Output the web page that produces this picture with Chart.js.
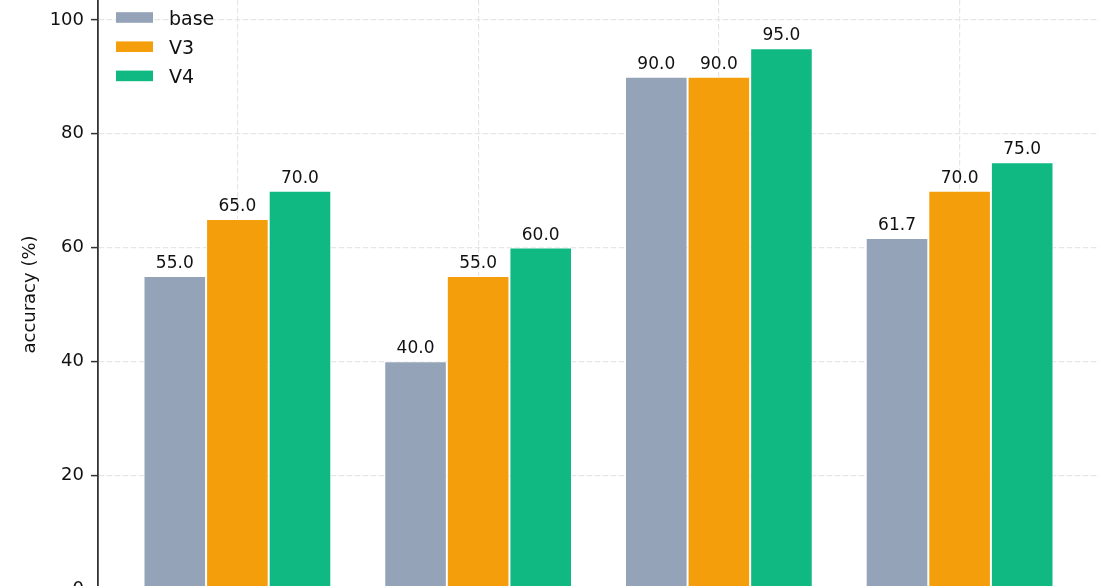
<!DOCTYPE html>
<html>
<head>
<meta charset="utf-8">
<script src="https://cdn.jsdelivr.net/npm/chart.js@4"></script>
<style>
  html, body { margin: 0; padding: 0; background: #fff; overflow: hidden; }
  #wrap { width: 1120px; height: 600px; }
</style>
</head>
<body>
<div id="wrap"><canvas id="accChart"></canvas></div>
<script>
// four groups, x labels are below the visible frame
const categories = ['1', '2', '3', '4'];
const seriesNames = ['base', 'V3', 'V4'];
const baseValues = [55.0, 40.0, 90.0, 61.7];
const v3Values = [65.0, 55.0, 90.0, 70.0];
const v4Values = [70.0, 60.0, 95.0, 75.0];
const yTicks = [0, 20, 40, 60, 80, 100];

const colors = ['#94a3b8', '#f59e0b', '#10b981'];
const FONT = "'DejaVu Sans', sans-serif";
const TEXT = '#111111';

function toPoints(values) {
  return values.map((v, i) => ({ x: i, y: v }));
}

// numbers on top of each bar
const barLabels = {
  id: 'barLabels',
  afterDatasetsDraw(chart) {
    const ctx = chart.ctx;
    ctx.save();
    ctx.font = '17px ' + FONT;
    ctx.fillStyle = TEXT;
    ctx.textAlign = 'center';
    ctx.textBaseline = 'alphabetic';
    chart.data.datasets.forEach((ds, di) => {
      chart.getDatasetMeta(di).data.forEach((bar, i) => {
        ctx.fillText(ds.data[i].y.toFixed(1), bar.x, bar.y - 8);
      });
    });
    ctx.restore();
  }
};

// legend inside the plot, top left
const innerLegend = {
  id: 'innerLegend',
  afterDraw(chart) {
    const ctx = chart.ctx;
    const area = chart.chartArea;
    ctx.save();
    ctx.font = '19px ' + FONT;
    ctx.textAlign = 'left';
    ctx.textBaseline = 'alphabetic';
    chart.data.datasets.forEach((ds, i) => {
      const cy = area.top + 17.5 + i * 29.2;
      ctx.fillStyle = ds.backgroundColor;
      ctx.fillRect(area.left + 18, cy - 5.3, 37, 10.6);
      ctx.fillStyle = TEXT;
      ctx.fillText(ds.label, area.left + 71, cy + 7);
    });
    ctx.restore();
  }
};

const ctx = document.getElementById('accChart').getContext('2d');

const accChart = new Chart(ctx, {
  type: 'bar',
  data: {
    datasets: [baseValues, v3Values, v4Values].map((vals, i) => ({
      label: seriesNames[i],
      data: toPoints(vals),
      backgroundColor: colors[i],
      borderColor: '#ffffff',
      borderWidth: 1,
      categoryPercentage: 0.78,
      barPercentage: 1.0
    }))
  },
  options: {
    responsive: true,
    maintainAspectRatio: false,
    animation: false,
    layout: {
      padding: { left: 17, right: 21, top: 0, bottom: 0 }
    },
    plugins: {
      legend: { display: false },
      tooltip: { enabled: false }
    },
    scales: {
      x: {
        type: 'linear',
        offset: false,
        min: -0.579,
        max: categories.length - 1 + 0.579,
        afterBuildTicks(scale) {
          scale.ticks = categories.map((c, i) => ({ value: i }));
        },
        ticks: { display: false },
        grid: {
          offset: false,
          color: '#e6e6e6',
          lineWidth: 1.2,
          drawTicks: false
        },
        border: { display: false, dash: [5.5, 2.5] },
        afterFit(scale) {
          scale.height = 11;
          scale.paddingLeft = 0;
          scale.paddingRight = 0;
        }
      },
      y: {
        min: 0,
        max: 103.5,
        afterBuildTicks(scale) {
          scale.ticks = yTicks.map(v => ({ value: v }));
        },
        ticks: {
          color: TEXT,
          padding: 7,
          font: { family: FONT, size: 18 }
        },
        grid: {
          color: '#e6e6e6',
          lineWidth: 1.2,
          tickLength: 7,
          tickColor: '#333333',
          tickWidth: 1.5,
          tickBorderDash: []
        },
        border: { display: true, color: '#333333', width: 1.8, dash: [5.5, 2.5] },
        title: {
          display: true,
          text: 'accuracy (%)',
          color: TEXT,
          font: { family: FONT, size: 18 },
          padding: { top: 3, bottom: 3 }
        },
        afterFit(scale) {
          scale.width = 81;
          scale.paddingTop = 0;
          scale.paddingBottom = 0;
        }
      }
    }
  },
  plugins: [barLabels, innerLegend]
});
</script>
</body>
</html>
